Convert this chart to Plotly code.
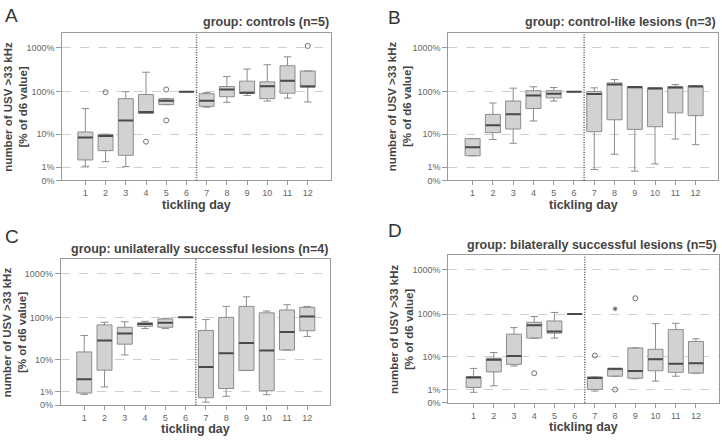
import plotly.graph_objects as go

days = list(range(1, 13))

# ---- values in % of d6 value ----
# Panel A: controls
a_q1  = [1.9, 3.7, 2.7, 31.4, 50.4, 100, 46, 76.6, 92, 69, 92, 129]
a_med = [8.3, 9.1, 21.6, 34, 62, 100, 62, 112, 94, 133, 176, 131]
a_q3  = [11.4, 10.0, 69, 86, 69, 100, 89.6, 131, 173, 167, 387, 294]
a_lo  = [1.09, 1.65, 1.05, 31.4, 50.4, 100, 44, 57, 82, 61, 71, 58]
a_hi  = [40.9, 10.0, 100, 276, 69, 100, 95, 220, 326, 408, 616, 294]
a_out_x = [2, 4, 5, 5, 12]
a_out_y = [97, 6.5, 112, 21.6, 1085]

# Panel B: control-like lesions
b_q1  = [2.6, 11, 13.5, 41, 72, 100, 11.6, 22.4, 13.2, 15.3, 32.5, 28]
b_med = [4.6, 16.5, 30, 82, 90, 100, 88, 145, 127, 119, 124, 133]
b_q3  = [7.8, 30, 61, 105, 105, 100, 101, 158, 127, 119, 129, 133]
b_lo  = [2.6, 7.4, 5.9, 21, 61, 100, 0.76, 2.9, 0.62, 1.36, 7.6, 5.4]
b_hi  = [7.8, 55, 120, 129, 124, 100, 122, 188, 127, 119, 145, 136]

# Panel C: unilaterally successful lesions
c_q1  = [0.89, 5.3, 23.7, 62, 59, 100, 0.48, 1.4, 5.2, 1.13, 17.1, 48.9]
c_med = [2.9, 28.8, 42.5, 70, 75.5, 100, 6.4, 14.3, 25.4, 16.8, 45.5, 105]
c_q3  = [15.4, 67, 59, 75, 92, 100, 49.7, 100, 179, 127, 148, 170]
c_lo  = [0.76, 1.6, 13, 55, 55, 100, 0.17, 0.59, 5.2, 0.73, 17.1, 36]
c_hi  = [38, 77, 79, 81, 95, 100, 89, 179, 296, 140, 195, 179]

# Panel D: bilaterally successful lesions
d_q1  = [1.23, 4.0, 6.4, 28, 36.5, 100, 1.01, 3.0, 2.6, 4.3, 3.9, 3.7]
d_med = [2.8, 8.4, 10.5, 55.5, 39.8, 100, 2.66, 4.9, 4.25, 8.7, 6.6, 6.8]
d_q3  = [2.8, 9.2, 34.6, 65, 69.6, 100, 2.86, 4.9, 16.4, 15.2, 44, 23.4]
d_lo  = [0.73, 1.43, 5.8, 28, 28, 100, 0.85, 3.0, 2.5, 2.1, 3.0, 3.7]
d_hi  = [5.0, 12.7, 49, 88, 109, 100, 2.86, 4.9, 16.4, 60.5, 61.6, 27]
d_out_x = [4, 7, 8, 9]
d_out_y = [3.66, 10.7, 1.0, 229]
d_ext_x = [8]
d_ext_y = [132]

titles = ["group: controls (n=5)", "group: control-like lesions (n=3)",
          "group: unilaterally successful lesions (n=4)",
          "group: bilaterally successful lesions (n=5)"]
letters = ["A", "B", "C", "D"]
tick_pct = [0, 1, 10, 100, 1000]
tick_txt = ["0%", "1%", "10%", "100%", "1000%"]

def sh(v):
    # shift by 1 so that 0% can be shown on the log axis
    return [x + 1 for x in v]

panels = [
    dict(q1=a_q1, med=a_med, q3=a_q3, lo=a_lo, hi=a_hi, ox=a_out_x, oy=a_out_y, ex=[], ey=[]),
    dict(q1=b_q1, med=b_med, q3=b_q3, lo=b_lo, hi=b_hi, ox=[], oy=[], ex=[], ey=[]),
    dict(q1=c_q1, med=c_med, q3=c_q3, lo=c_lo, hi=c_hi, ox=[], oy=[], ex=[], ey=[]),
    dict(q1=d_q1, med=d_med, q3=d_q3, lo=d_lo, hi=d_hi, ox=d_out_x, oy=d_out_y, ex=d_ext_x, ey=d_ext_y),
]

W, H = 722, 440
# frame pixel boxes: left, right, top, bottom
frames = [(62.3, 331.0, 33.3, 182.5), (448.3, 718.3, 33.3, 182.5),
          (60.7, 330.0, 262.3, 409.8), (448.3, 719.0, 258.3, 407.5)]
xranges = [[-0.14, 13.15], [-0.2, 13.12], [-0.16, 13.12], [-0.25, 13.14]]
ytitle_x = [16, 399.5, 14, 401]
xtitle_y = [207, 207, 434, 432]
letter_pos = [(3, 3), (386, 5), (3, 227), (386, 221)]

FONT = "Liberation Sans, Arial, sans-serif"
BOX_LINE = "#8c8c8c"
FILL = "#d2d2d2"
MED = "#4a4a4a"
FRAME = "#9a9a9a"

fig = go.Figure()
layout = dict(width=W, height=H, margin=dict(l=0, r=0, t=0, b=0),
              paper_bgcolor="white", plot_bgcolor="white", showlegend=False,
              annotations=[], shapes=[])

for i, p in enumerate(panels):
    n = "" if i == 0 else str(i + 1)
    xa, ya = "x" + n, "y" + n
    l, r, t, b = frames[i]
    fig.add_trace(go.Box(x=days, q1=sh(p["q1"]), median=sh(p["med"]), q3=sh(p["q3"]),
                         lowerfence=sh(p["lo"]), upperfence=sh(p["hi"]),
                         width=0.74, whiskerwidth=0.5, fillcolor=FILL,
                         line=dict(color=BOX_LINE, width=1), boxpoints=False,
                         xaxis=xa, yaxis=ya, hoverinfo="skip"))
    fig.add_trace(go.Scatter(x=days, y=sh(p["med"]), mode="markers",
                             marker=dict(symbol="line-ew", size=10.6,
                                         line=dict(color=MED, width=2)),
                             xaxis=xa, yaxis=ya, hoverinfo="skip"))
    if p["ox"]:
        fig.add_trace(go.Scatter(x=p["ox"], y=sh(p["oy"]), mode="markers",
                                 marker=dict(symbol="circle-open", size=5,
                                             color="#707070", line=dict(width=1)),
                                 xaxis=xa, yaxis=ya, hoverinfo="skip"))
    if p["ex"]:
        fig.add_trace(go.Scatter(x=p["ex"], y=sh(p["ey"]), mode="markers",
                                 marker=dict(symbol="asterisk-open", size=4,
                                             color="#606060", line=dict(width=1, color="#606060")),
                                 xaxis=xa, yaxis=ya, hoverinfo="skip"))

    layout["xaxis" + n] = dict(domain=[l / W, r / W], anchor=ya, range=xranges[i],
                               tickvals=days, ticks="outside", ticklen=4, tickcolor=FRAME,
                               showline=True, mirror=True, linecolor=FRAME, linewidth=1,
                               showgrid=False, zeroline=False,
                               tickfont=dict(family=FONT, size=9, color="#666"))
    layout["yaxis" + n] = dict(domain=[1 - b / H, 1 - t / H], anchor=xa, type="log",
                               range=[0, 3.33], tickvals=sh(tick_pct), ticktext=tick_txt,
                               ticks="outside", ticklen=5, tickcolor=FRAME,
                               showline=True, mirror=True, linecolor=FRAME, linewidth=1,
                               showgrid=True, gridcolor="#cfcfcf", griddash="dash", gridwidth=1,
                               zeroline=False,
                               tickfont=dict(family=FONT, size=9, color="#666"))
    # divider between day 6 and day 7
    layout["shapes"].append(dict(type="line", xref=xa, yref=ya + " domain", x0=6.5, x1=6.5,
                                 y0=0, y1=1, line=dict(color="#555", width=1.5, dash="1px,1.5px")))
    # group title
    layout["annotations"].append(dict(text="<b>" + titles[i] + "</b>", xref="paper", yref="paper",
                                      x=r / W, y=1 - (t - 1.5) / H, xanchor="right", yanchor="bottom",
                                      showarrow=False,
                                      font=dict(family=FONT, size=12.5, color="#444")))
    # y title
    layout["annotations"].append(dict(text="<b>number of USV >33 kHz<br>[% of d6 value]</b>",
                                      xref="paper", yref="paper", x=ytitle_x[i] / W,
                                      y=1 - ((t + b) / 2) / H, xanchor="center", yanchor="middle",
                                      textangle=-90, showarrow=False,
                                      font=dict(family=FONT, size=11.5, color="#444")))
    # x title
    layout["annotations"].append(dict(text="<b>tickling day</b>", xref="paper", yref="paper",
                                      x=((l + r) / 2) / W, y=1 - xtitle_y[i] / H,
                                      xanchor="center", yanchor="middle", showarrow=False,
                                      font=dict(family=FONT, size=12.5, color="#444")))
    # panel letter
    lx, ly = letter_pos[i]
    layout["annotations"].append(dict(text=letters[i], xref="paper", yref="paper",
                                      x=lx / W, y=1 - ly / H, xanchor="left", yanchor="top",
                                      showarrow=False,
                                      font=dict(family=FONT, size=19, color="#333")))

fig.update_layout(**layout)
fig.write_html("out.html")
